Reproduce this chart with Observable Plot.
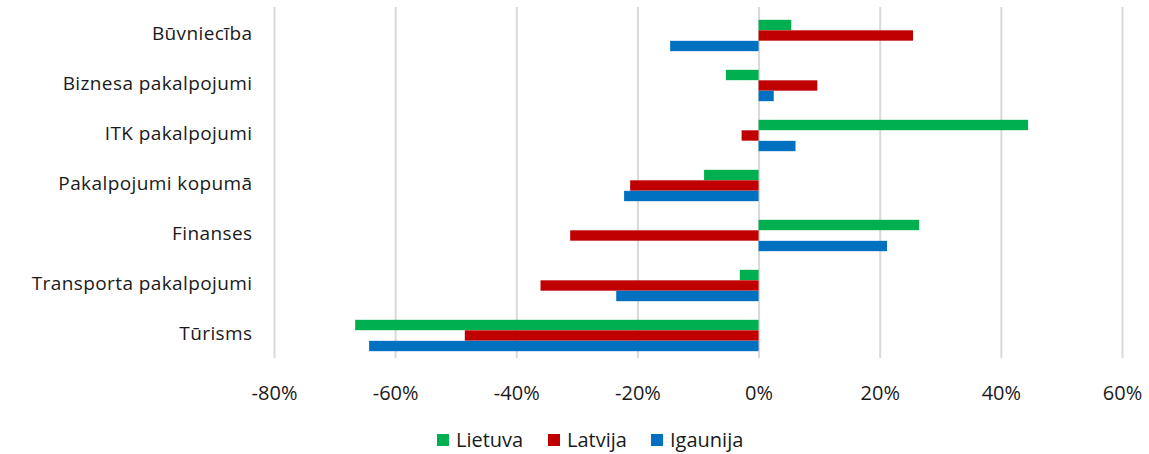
<!DOCTYPE html>
<html>
<head>
<meta charset="utf-8">
<script src="https://cdn.jsdelivr.net/npm/d3@7"></script>
<script src="https://cdn.jsdelivr.net/npm/@observablehq/plot@0.6"></script>
<style>
  html, body { margin: 0; padding: 0; background: #fff; }
  body { width: 1149px; height: 454px; overflow: hidden; font-family: "Open Sans", Lato, sans-serif; color: #1a1a1a; }
  #chart { position: relative; }
  #chart svg { display: block; }
  #chart svg g[aria-label="y-axis tick label"] text { letter-spacing: 0.4px; }
  #legend { position: relative; height: 44px; }
  .item { position: absolute; top: 18px; height: 24px; display: flex; align-items: center; font-size: 20px; line-height: 24px; }
  .sw { width: 12px; height: 12px; margin-right: 7px; }
</style>
</head>
<body>
<div id="chart"></div>
<div id="legend"></div>
<script>
const categories = ["Būvniecība", "Biznesa pakalpojumi", "ITK pakalpojumi", "Pakalpojumi kopumā", "Finanses", "Transporta pakalpojumi", "Tūrisms"];
const series = ["Lietuva", "Latvija", "Igaunija"];
const colors = ["#00b050", "#c00000", "#0070c0"];
const lietuva  = [5.4, -5.4, 44.5, -9.0, 26.5, -3.1, -66.6];
const latvija  = [25.5, 9.7, -2.8, -21.2, -31.1, -36.0, -48.5];
const igaunija = [-14.6, 2.5, 6.1, -22.2, 21.2, -23.5, -64.3];
const xTicks = [-80, -60, -40, -20, 0, 20, 40, 60];

const valuesBySeries = [lietuva, latvija, igaunija];
const rows = [];
series.forEach((s, si) => categories.forEach((c, ci) => rows.push({series: s, cat: c, value: valuesBySeries[si][ci]})));

const barH = 10.5;
const offsets = [-barH + 2.5, 2.5, barH + 2.5];

const plot = Plot.plot({
  width: 1149,
  height: 410,
  marginLeft: 274,
  marginRight: 27,
  marginTop: 7,
  marginBottom: 52,
  style: { fontFamily: "'Open Sans', Lato, sans-serif", fontSize: "19px", color: "#1a1a1a", background: "#fff" },
  x: { domain: [-80, 60], ticks: xTicks, tickFormat: d => d + "%", tickSize: 0, tickPadding: 27, label: null },
  y: { domain: categories, padding: 0, tickSize: 0, tickPadding: 22, label: null },
  marks: [
    Plot.ruleX(xTicks, { stroke: "#d9d9d9", strokeWidth: 2 }),
    ...series.map((s, si) => Plot.barX(rows.filter(r => r.series === s), {
      x: "value", y: "cat", fill: colors[si],
      insetTop: (50.14 - barH) / 2, insetBottom: (50.14 - barH) / 2,
      dy: offsets[si]
    }))
  ]
});
document.getElementById("chart").appendChild(plot);
d3.select(plot).selectAll('g[aria-label="x-axis tick label"] text').style("font-size", "20px");

const leg = document.getElementById("legend");
const lefts = [437, 548, 651];
series.forEach((s, i) => {
  const it = document.createElement("div");
  it.className = "item";
  it.style.left = lefts[i] + "px";
  it.innerHTML = `<span class="sw" style="background:${colors[i]}"></span><span>${s}</span>`;
  leg.appendChild(it);
});
</script>
</body>
</html>
